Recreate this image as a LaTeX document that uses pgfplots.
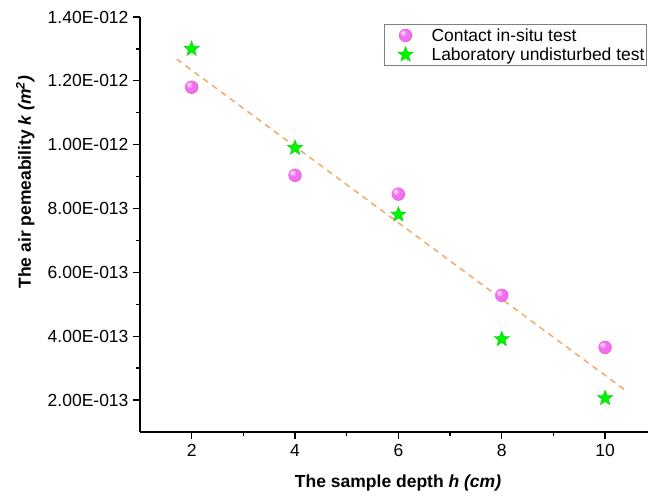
\documentclass[border=0pt]{standalone}
\usepackage{fontspec}
\setmainfont{Liberation Sans}
\usepackage{pgfplots}
\pgfplotsset{compat=1.18}
\definecolor{ballpink}{RGB}{240,112,240}
\colorlet{ballrim}{ballpink!90!purple}
\colorlet{ballmid}{white!35!ballpink}
\colorlet{ballhi}{white!78!ballpink}
\definecolor{fitorange}{RGB}{244,164,96}
\definecolor{stargreen}{RGB}{0,245,0}
\colorlet{stardraw}{stargreen!85!black}

\pgfdeclareplotmark{pball}{%
  \pgfsetfillcolor{ballrim}%
  \pgfpathcircle{\pgfpointorigin}{\pgfplotmarksize}\pgfusepath{fill}%
  \pgfsetfillcolor{ballpink}%
  \pgfpathcircle{\pgfpoint{-0.06\pgfplotmarksize}{0.06\pgfplotmarksize}}{0.88\pgfplotmarksize}\pgfusepath{fill}%
  \pgfsetfillcolor{ballmid}%
  \pgfpathcircle{\pgfpoint{-0.3\pgfplotmarksize}{0.3\pgfplotmarksize}}{0.45\pgfplotmarksize}\pgfusepath{fill}%
  \pgfsetfillcolor{ballhi}%
  \pgfpathcircle{\pgfpoint{-0.38\pgfplotmarksize}{0.38\pgfplotmarksize}}{0.22\pgfplotmarksize}\pgfusepath{fill}}

\pgfdeclareplotmark{fstar}{%
  \pgfpathmoveto{\pgfpointpolar{90}{\pgfplotmarksize}}%
  \pgfpathlineto{\pgfpointpolar{126}{0.42\pgfplotmarksize}}%
  \pgfpathlineto{\pgfpointpolar{162}{\pgfplotmarksize}}%
  \pgfpathlineto{\pgfpointpolar{198}{0.42\pgfplotmarksize}}%
  \pgfpathlineto{\pgfpointpolar{234}{\pgfplotmarksize}}%
  \pgfpathlineto{\pgfpointpolar{270}{0.42\pgfplotmarksize}}%
  \pgfpathlineto{\pgfpointpolar{306}{\pgfplotmarksize}}%
  \pgfpathlineto{\pgfpointpolar{342}{0.42\pgfplotmarksize}}%
  \pgfpathlineto{\pgfpointpolar{18}{\pgfplotmarksize}}%
  \pgfpathlineto{\pgfpointpolar{54}{0.42\pgfplotmarksize}}%
  \pgfpathclose
  \pgfusepathqfillstroke}

\begin{document}
\begin{tikzpicture}
\useasboundingbox (0,0) rectangle (648pt,497pt);
\begin{axis}[
  at={(140pt,65pt)}, anchor=south west,
  scale only axis, width=508pt, height=415pt,
  xmin=1, xmax=10.83, ymin=1e-13, ymax=1.4e-12,
  axis x line*=bottom, axis y line*=left,
  axis line style={line width=1.3pt, black},
  xtick={2,4,6,8,10}, minor x tick num=1,
  ytick={2e-13,4e-13,6e-13,8e-13,1e-12,1.2e-12,1.4e-12},
  yticklabels={2.00E-013,4.00E-013,6.00E-013,8.00E-013,1.00E-012,1.20E-012,1.40E-012},
  scaled y ticks=false,
  minor y tick num=1,
  tick align=outside, major tick length=7pt, minor tick length=4pt,
  tick style={line width=1.3pt, black},
  /pgf/number format/assume math mode=true,
  ticklabel style={font=\fontsize{17.5}{21}\selectfont},
  yticklabel style={xshift=-1pt},
  xticklabel style={yshift=-2pt},
  xlabel={\textbf{The sample depth \textit{h (cm)}}},
  ylabel={\textbf{The air pemeability \textit{k (m\textsuperscript{2})}}},
  label style={font=\fontsize{17.5}{21}\selectfont},
  xlabel style={at={(axis description cs:0.508,-0.123)}, anchor=center},
  ylabel style={at={(axis description cs:-0.226,0.602)}, anchor=center},
  legend style={at={(0.998,0.982)}, anchor=north east,
    draw=gray, line width=0.8pt, fill=white,
    font=\fontsize{17.5}{21}\selectfont,
    inner xsep=1pt, inner ysep=1.5pt, row sep=1pt,
    nodes={inner xsep=1pt, inner ysep=2pt},
    cells={anchor=west}},
  legend image code/.code={%
    \draw[#1, only marks] plot coordinates {(20pt,0pt)};
    \path[draw=none, fill=none] (0pt,-0.1pt) rectangle (45pt,0.1pt);},
]
\addplot[fitorange, line width=1.4pt, dash pattern=on 6pt off 5pt, forget plot]
  coordinates {(1.71,1.268e-12) (10.38,0.232e-12)};
\addplot[only marks, mark=pball, mark size=6.7pt]
  coordinates {(2,1.180e-12) (4,0.904e-12) (6,0.845e-12) (8,0.528e-12) (10,0.365e-12)};
\addplot[only marks, mark=fstar, mark size=8pt,
  mark options={fill=stargreen, draw=stardraw, line width=0.4pt}]
  coordinates {(2,1.300e-12) (4,0.990e-12) (6,0.781e-12) (8,0.391e-12) (10,0.206e-12)};
\legend{Contact in-situ test, Laboratory undisturbed test}
\end{axis}
\end{tikzpicture}
\end{document}
